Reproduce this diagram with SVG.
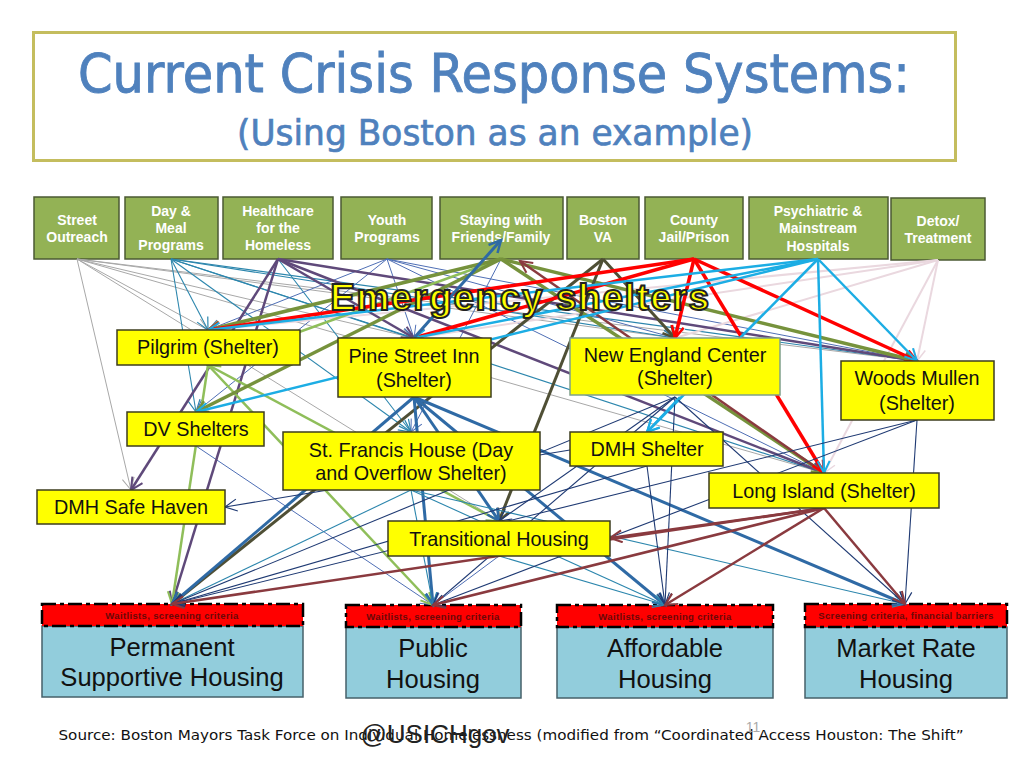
<svg xmlns="http://www.w3.org/2000/svg" width="1024" height="768" viewBox="0 0 1024 768">
<style>
text{font-family:"Liberation Sans",Arial,sans-serif;text-anchor:middle}
.src rect{fill:#93b255;stroke:#4b5a33;stroke-width:1.5}
.src text{fill:#fff;font-weight:bold;font-size:14px}
.shl rect{fill:#ffff00;stroke:#3c3c1e;stroke-width:1.5}
.shl text{fill:#111;font-size:19.8px}
.hsg .b{fill:#92cddc;stroke:#46606a;stroke-width:1.5}
.hsg .r{fill:#ff0000;stroke:#000;stroke-width:2.5;stroke-dasharray:14 4 4 4}
.hsg text{fill:#111;font-size:25.6px}
.hsg .w{fill:#6b0808;font-size:9.5px;font-weight:bold;letter-spacing:.35px}
line{fill:none}
.gy{stroke:#a8a8a8;stroke-width:1;marker-end:url(#gy)}
.tl{stroke:#2c86ad;stroke-width:1.1;marker-end:url(#tl)}
.pu{stroke:#5f497a;stroke-width:2.5;marker-end:url(#pu)}
.yb{stroke:#4f6fb5;stroke-width:1;marker-end:url(#yb)}
.ol{stroke:#76923c;stroke-width:3.5;marker-end:url(#ol)}
.gr{stroke:#8fbe5a;stroke-width:2.5;marker-end:url(#gr)}
.dk{stroke:#4f4f35;stroke-width:3;marker-end:url(#dk)}
.rd{stroke:#ff0000;stroke-width:3.5;marker-end:url(#rd)}
.cy{stroke:#1cade4;stroke-width:2.5;marker-end:url(#cy)}
.pk{stroke:#ead8df;stroke-width:2;marker-end:url(#pk)}
.st{stroke:#2f6aa5;stroke-width:3;marker-end:url(#st)}
.nv{stroke:#1f3a73;stroke-width:1.1;marker-end:url(#nv)}
.br{stroke:#8a3a3f;stroke-width:2.5;marker-end:url(#br)}
</style>
<defs>
<marker id="gy" markerUnits="userSpaceOnUse" markerWidth="16" markerHeight="16" refX="13" refY="7" orient="auto"><path d="M1,1L13,7L1,13" fill="none" stroke="#a8a8a8" stroke-width="1"/></marker>
<marker id="tl" markerUnits="userSpaceOnUse" markerWidth="16" markerHeight="16" refX="13" refY="7" orient="auto"><path d="M1,1L13,7L1,13" fill="none" stroke="#2c86ad" stroke-width="1.2"/></marker>
<marker id="pu" markerUnits="userSpaceOnUse" markerWidth="16" markerHeight="16" refX="13" refY="7" orient="auto"><path d="M1,1L13,7L1,13" fill="none" stroke="#5f497a" stroke-width="2"/></marker>
<marker id="yb" markerUnits="userSpaceOnUse" markerWidth="16" markerHeight="16" refX="13" refY="7" orient="auto"><path d="M1,1L13,7L1,13" fill="none" stroke="#4f6fb5" stroke-width="1"/></marker>
<marker id="ol" markerUnits="userSpaceOnUse" markerWidth="16" markerHeight="16" refX="13" refY="7" orient="auto"><path d="M1,1L13,7L1,13" fill="none" stroke="#76923c" stroke-width="2.5"/></marker>
<marker id="gr" markerUnits="userSpaceOnUse" markerWidth="16" markerHeight="16" refX="13" refY="7" orient="auto"><path d="M1,1L13,7L1,13" fill="none" stroke="#8fbe5a" stroke-width="2"/></marker>
<marker id="dk" markerUnits="userSpaceOnUse" markerWidth="16" markerHeight="16" refX="13" refY="7" orient="auto"><path d="M1,1L13,7L1,13" fill="none" stroke="#4f4f35" stroke-width="2.5"/></marker>
<marker id="rd" markerUnits="userSpaceOnUse" markerWidth="16" markerHeight="16" refX="13" refY="7" orient="auto"><path d="M1,1L13,7L1,13" fill="none" stroke="#ff0000" stroke-width="2.5"/></marker>
<marker id="cy" markerUnits="userSpaceOnUse" markerWidth="16" markerHeight="16" refX="13" refY="7" orient="auto"><path d="M1,1L13,7L1,13" fill="none" stroke="#1cade4" stroke-width="2"/></marker>
<marker id="pk" markerUnits="userSpaceOnUse" markerWidth="16" markerHeight="16" refX="13" refY="7" orient="auto"><path d="M1,1L13,7L1,13" fill="none" stroke="#ead8df" stroke-width="1.5"/></marker>
<marker id="st" markerUnits="userSpaceOnUse" markerWidth="16" markerHeight="16" refX="13" refY="7" orient="auto"><path d="M1,1L13,7L1,13" fill="none" stroke="#2f6aa5" stroke-width="2.5"/></marker>
<marker id="nv" markerUnits="userSpaceOnUse" markerWidth="16" markerHeight="16" refX="13" refY="7" orient="auto"><path d="M1,1L13,7L1,13" fill="none" stroke="#1f3a73" stroke-width="1.2"/></marker>
<marker id="br" markerUnits="userSpaceOnUse" markerWidth="16" markerHeight="16" refX="13" refY="7" orient="auto"><path d="M1,1L13,7L1,13" fill="none" stroke="#8a3a3f" stroke-width="2"/></marker>
</defs>
<rect width="1024" height="768" fill="#fff"/>
<g id="title">
<rect x="33.500" y="32.500" width="922" height="128" fill="#fff" stroke="#c4bd5e" stroke-width="3"/>
<text x="494" y="92" font-size="54" fill="#4f81bd" stroke="#4f81bd" stroke-width=".9" style="font-family:'DejaVu Sans',sans-serif" textLength="832" lengthAdjust="spacingAndGlyphs">Current Crisis Response Systems:</text>
<text x="495" y="145" font-size="36" fill="#4f81bd" stroke="#4f81bd" stroke-width=".7" style="font-family:'DejaVu Sans',sans-serif" textLength="516" lengthAdjust="spacingAndGlyphs">(Using Boston as an example)</text>
</g>
<g id="street-outreach" class="src"><rect x="34" y="197" width="85" height="62"/><text x="77" y="225">Street</text><text x="77" y="242">Outreach</text></g>
<g id="day-meal" class="src"><rect x="125" y="197" width="93" height="62"/><text x="171" y="216">Day &amp;</text><text x="171" y="233">Meal</text><text x="171" y="250">Programs</text></g>
<g id="healthcare" class="src"><rect x="223" y="197" width="110" height="62"/><text x="278" y="216">Healthcare</text><text x="278" y="233">for the</text><text x="278" y="250">Homeless</text></g>
<g id="youth" class="src"><rect x="341" y="197" width="91" height="62"/><text x="387" y="225">Youth</text><text x="387" y="242">Programs</text></g>
<g id="staying" class="src"><rect x="440" y="197" width="123" height="62"/><text x="501" y="225">Staying with</text><text x="501" y="242">Friends/Family</text></g>
<g id="boston-va" class="src"><rect x="567" y="197" width="72" height="62"/><text x="603" y="225">Boston</text><text x="603" y="242">VA</text></g>
<g id="county" class="src"><rect x="645" y="197" width="98" height="62"/><text x="694" y="225">County</text><text x="694" y="242">Jail/Prison</text></g>
<g id="psychiatric" class="src"><rect x="749" y="197" width="139" height="62"/><text x="818" y="216">Psychiatric &amp;</text><text x="818" y="233">Mainstream</text><text x="818" y="251">Hospitals</text></g>
<g id="detox" class="src"><rect x="891" y="198" width="94" height="62"/><text x="938" y="226">Detox/</text><text x="938" y="243">Treatment</text></g>
<g id="permanent" class="hsg"><rect class="b" x="42" y="626" width="261" height="71"/><rect class="r" x="42" y="604" width="261" height="22"/><text class="w" x="172" y="619">Waitlists, screening criteria</text><text x="172" y="656">Permanent</text><text x="172" y="686">Supportive Housing</text></g>
<g id="public" class="hsg"><rect class="b" x="346" y="627" width="175" height="71"/><rect class="r" x="346" y="605" width="175" height="22"/><text class="w" x="433" y="620">Waitlists, screening criteria</text><text x="433" y="657">Public</text><text x="433" y="688">Housing</text></g>
<g id="affordable" class="hsg"><rect class="b" x="557" y="627" width="216" height="71"/><rect class="r" x="557" y="605" width="216" height="22"/><text class="w" x="665" y="620">Waitlists, screening criteria</text><text x="665" y="657">Affordable</text><text x="665" y="688">Housing</text></g>
<g id="market" class="hsg"><rect class="b" x="805" y="627" width="202" height="71"/><rect class="r" x="805" y="604" width="202" height="23"/><text class="w" x="906" y="619">Screening criteria, financial barriers</text><text x="906" y="657">Market Rate</text><text x="906" y="688">Housing</text></g>
<g id="connectors">
<line class="gy" x1="77" y1="259" x2="131" y2="490"/><line class="gy" x1="77" y1="259" x2="208" y2="330"/><line class="gy" x1="77" y1="259" x2="414" y2="338"/><line class="gy" x1="77" y1="259" x2="675" y2="338"/><line class="gy" x1="77" y1="259" x2="917" y2="361"/><line class="gy" x1="77" y1="259" x2="824" y2="473"/><line class="gy" x1="77" y1="259" x2="499" y2="521"/>
<line class="tl" x1="171" y1="259" x2="208" y2="330"/><line class="tl" x1="171" y1="259" x2="196" y2="412"/><line class="tl" x1="171" y1="259" x2="414" y2="338"/><line class="tl" x1="171" y1="259" x2="411" y2="432"/><line class="tl" x1="171" y1="259" x2="675" y2="338"/><line class="tl" x1="171" y1="259" x2="917" y2="361"/><line class="tl" x1="171" y1="259" x2="824" y2="473"/><line class="tl" x1="278" y1="259" x2="411" y2="432"/>
<line class="yb" x1="387" y1="259" x2="208" y2="330"/><line class="yb" x1="387" y1="259" x2="414" y2="338"/><line class="yb" x1="387" y1="259" x2="196" y2="412"/><line class="yb" x1="387" y1="259" x2="675" y2="338"/><line class="yb" x1="387" y1="259" x2="917" y2="361"/><line class="yb" x1="387" y1="259" x2="824" y2="473"/><line class="yb" x1="501" y1="259" x2="411" y2="432"/><line class="yb" x1="196" y1="446" x2="433" y2="605"/>
<line class="pk" x1="938" y1="260" x2="208" y2="330"/><line class="pk" x1="938" y1="260" x2="414" y2="338"/><line class="pk" x1="938" y1="260" x2="675" y2="338"/><line class="pk" x1="938" y1="260" x2="917" y2="361"/><line class="pk" x1="938" y1="260" x2="824" y2="473"/>
<line class="pu" x1="278" y1="259" x2="131" y2="490"/><line class="pu" x1="278" y1="259" x2="172" y2="604"/><line class="pu" x1="278" y1="259" x2="414" y2="338"/><line class="pu" x1="278" y1="259" x2="917" y2="361"/><line class="pu" x1="278" y1="259" x2="824" y2="473"/>
<line class="gr" x1="501" y1="259" x2="208" y2="365"/><line class="gr" x1="208" y1="365" x2="172" y2="604"/><line class="gr" x1="208" y1="365" x2="433" y2="605"/><line class="gr" x1="208" y1="365" x2="499" y2="521"/>
<line class="ol" x1="501" y1="259" x2="208" y2="330"/><line class="ol" x1="501" y1="259" x2="196" y2="412"/><line class="ol" x1="501" y1="259" x2="917" y2="361"/><line class="ol" x1="501" y1="259" x2="824" y2="473"/>
<line class="br" x1="824" y1="473" x2="520" y2="261"/>
<line class="dk" x1="603" y1="259" x2="172" y2="604"/><line class="dk" x1="603" y1="259" x2="499" y2="521"/><line class="dk" x1="603" y1="259" x2="675" y2="338"/>
<line class="rd" x1="694" y1="259" x2="208" y2="330"/><line class="rd" x1="694" y1="259" x2="414" y2="338"/><line class="rd" x1="694" y1="259" x2="675" y2="338"/><line class="rd" x1="694" y1="259" x2="917" y2="361"/><line class="rd" x1="694" y1="259" x2="824" y2="473"/>
<line class="cy" x1="818" y1="259" x2="208" y2="330"/><line class="cy" x1="818" y1="259" x2="414" y2="338"/><line class="cy" x1="818" y1="259" x2="196" y2="412"/><line class="cy" x1="818" y1="259" x2="647" y2="432"/><line class="cy" x1="818" y1="259" x2="917" y2="361"/><line class="cy" x1="818" y1="259" x2="824" y2="473"/>
<line class="st" x1="414" y1="338" x2="501" y2="240"/><line class="st" x1="414" y1="397" x2="172" y2="604"/><line class="st" x1="414" y1="397" x2="433" y2="605"/><line class="st" x1="414" y1="397" x2="499" y2="521"/><line class="st" x1="414" y1="397" x2="665" y2="605"/><line class="st" x1="414" y1="397" x2="905" y2="604"/>
<line class="tl" x1="411" y1="490" x2="172" y2="604"/><line class="tl" x1="411" y1="490" x2="433" y2="605"/><line class="tl" x1="411" y1="490" x2="665" y2="605"/><line class="tl" x1="411" y1="490" x2="905" y2="604"/><line class="tl" x1="499" y1="556" x2="665" y2="605"/><line class="yb" x1="499" y1="556" x2="433" y2="605"/>
<line class="nv" x1="675" y1="397" x2="172" y2="604"/><line class="nv" x1="675" y1="397" x2="433" y2="605"/><line class="nv" x1="675" y1="397" x2="499" y2="521"/><line class="nv" x1="675" y1="397" x2="665" y2="605"/><line class="nv" x1="675" y1="397" x2="905" y2="604"/><line class="nv" x1="647" y1="466" x2="172" y2="604"/><line class="nv" x1="647" y1="466" x2="665" y2="605"/><line class="nv" x1="570" y1="450" x2="225" y2="507"/><line class="nv" x1="917" y1="420" x2="172" y2="604"/><line class="nv" x1="917" y1="420" x2="433" y2="605"/><line class="nv" x1="917" y1="420" x2="905" y2="604"/>
<line class="cy" x1="680" y1="397" x2="647" y2="432"/>
<line class="br" x1="824" y1="508" x2="610" y2="538"/><line class="br" x1="824" y1="508" x2="172" y2="604"/><line class="br" x1="824" y1="508" x2="433" y2="605"/><line class="br" x1="824" y1="508" x2="665" y2="605"/><line class="br" x1="824" y1="508" x2="905" y2="604"/>
</g>
<g id="pilgrim" class="shl"><rect x="117" y="330" width="183" height="35"/><text x="208" y="354">Pilgrim (Shelter)</text></g>
<g id="pine-street" class="shl"><rect x="338" y="338" width="153" height="59"/><text x="414" y="363">Pine Street Inn</text><text x="414" y="387">(Shelter)</text></g>
<g id="new-england" class="shl"><rect x="570" y="338" width="210" height="57" style="stroke:#7fa08a"/><text x="675" y="362">New England Center</text><text x="675" y="385">(Shelter)</text></g>
<g id="woods-mullen" class="shl"><rect x="841" y="361" width="153" height="59"/><text x="917" y="385">Woods Mullen</text><text x="917" y="410">(Shelter)</text></g>
<g id="dv" class="shl"><rect x="127" y="412" width="137" height="34"/><text x="196" y="436">DV Shelters</text></g>
<g id="st-francis" class="shl"><rect x="283" y="432" width="257" height="58"/><text x="411" y="457">St. Francis House (Day</text><text x="411" y="480">and Overflow Shelter)</text></g>
<g id="dmh-shelter" class="shl"><rect x="570" y="432" width="153" height="34"/><text x="647" y="456">DMH Shelter</text></g>
<g id="long-island" class="shl"><rect x="709" y="473" width="230" height="35"/><text x="824" y="498">Long Island (Shelter)</text></g>
<g id="dmh-safe" class="shl"><rect x="37" y="490" width="188" height="34"/><text x="131" y="514">DMH Safe Haven</text></g>
<g id="transitional" class="shl"><rect x="388" y="521" width="222" height="35"/><text x="499" y="546">Transitional Housing</text></g>
<text id="band" x="520.500" y="310" font-size="37" font-weight="bold" fill="#ffff00" stroke="#222" stroke-width="2" letter-spacing="1.6">Emergency shelters</text>
<g id="footer">
<text x="511" y="740" font-size="14.500" fill="#111" style="font-family:'DejaVu Sans',sans-serif" textLength="905" lengthAdjust="spacingAndGlyphs">Source: Boston Mayors Task Force on Individual Homelessness (modified from “Coordinated Access Houston: The Shift”</text>
<text x="435" y="743" font-size="26" fill="#222">@USICHgov</text>
<text x="753" y="732" font-size="14" fill="#aaa">11</text>
</g>
</svg>
